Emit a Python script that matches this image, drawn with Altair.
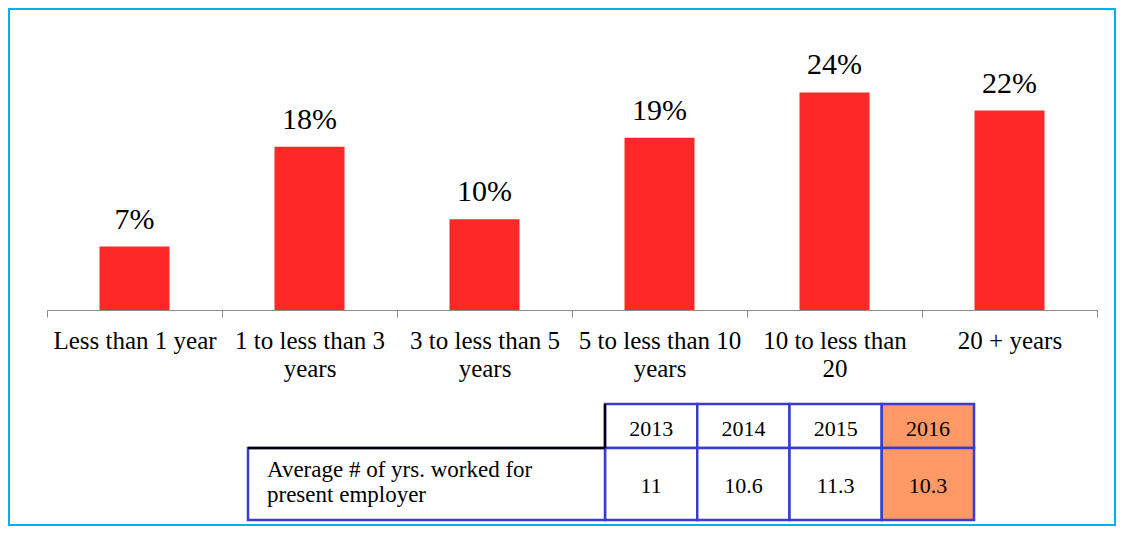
import altair as alt
import pandas as pd

# ---- data ----
categories = [
    "Less than 1 year",
    "1 to less than 3\nyears",
    "3 to less than 5\nyears",
    "5 to less than 10\nyears",
    "10 to less than\n20",
    "20 + years",
]
shares = [0.07, 0.18, 0.10, 0.19, 0.24, 0.22]

years = ["2013", "2014", "2015", "2016"]
avg_years = [11, 10.6, 11.3, 10.3]
row_label = "Average # of  yrs. worked for\npresent employer"
highlight_year = "2016"

FONT = "Liberation Serif"
RED = "#FF2828"
BLUE = "#3B3BCF"
ORANGE = "#FF9966"
FRAME = "#00B0F0"

W, H = 1050, 272

bars_df = pd.DataFrame({"category": categories, "share": shares})
table_df = pd.DataFrame({"year": years, "avg": avg_years})
label_df = pd.DataFrame({"label": [row_label]})

xcat = alt.X(
    "category:N",
    sort=categories,
    scale=alt.Scale(paddingInner=0, paddingOuter=0),
    axis=alt.Axis(
        title=None,
        labelAngle=0,
        labelFont=FONT,
        labelFontSize=25,
        labelColor="black",
        labelLineHeight=28,
        labelPadding=11,
        labelLimit=0,
        labelExpr="split(datum.label, '\\n')",
        tickBand="extent",
        tickSize=7,
        tickColor="#8C8C8C",
        domainColor="#8C8C8C",
        grid=False,
    ),
)
yshare = alt.Y("share:Q", scale=alt.Scale(domain=[0, 0.30]), axis=None)

bars = alt.Chart(bars_df).mark_bar(
    color=RED, width=alt.RelativeBandSize(0.4)
).encode(x=xcat, y=yshare)

bar_labels = alt.Chart(bars_df).mark_text(
    font=FONT, fontSize=30, color="black", baseline="alphabetic", dy=-18
).encode(x=xcat, y=yshare, text=alt.Text("share:Q", format=".0%"))

bar_layer = alt.layer(bars, bar_labels)

xyear = alt.X(
    "year:O",
    sort=years,
    scale=alt.Scale(range=[558, 927], paddingInner=0, paddingOuter=0),
    axis=None,
)
cell_fill = alt.condition(
    alt.datum.year == highlight_year, alt.value(ORANGE), alt.value("white")
)

header_cells = alt.Chart(table_df).mark_rect(
    stroke=BLUE, strokeWidth=2.5
).encode(x=xyear, y=alt.value(366), y2=alt.value(410), fill=cell_fill)

data_cells = alt.Chart(table_df).mark_rect(
    stroke=BLUE, strokeWidth=2.5
).encode(x=xyear, y=alt.value(410), y2=alt.value(482), fill=cell_fill)

header_text = alt.Chart(table_df).mark_text(
    font=FONT, fontSize=22, color="black", baseline="alphabetic"
).encode(x=xyear, y=alt.value(398), text="year:N")

data_text = alt.Chart(table_df).mark_text(
    font=FONT, fontSize=22, color="black", baseline="alphabetic"
).encode(x=xyear, y=alt.value(455), text="avg:Q")

label_cell = alt.Chart(label_df).mark_rect(
    stroke=BLUE, strokeWidth=2.5, fill="white"
).encode(x=alt.value(201), x2=alt.value(558), y=alt.value(410), y2=alt.value(482))

black_h = alt.Chart(label_df).mark_rule(color="black", strokeWidth=2.5).encode(
    x=alt.value(201), x2=alt.value(558), y=alt.value(410)
)
black_v = alt.Chart(label_df).mark_rule(color="black", strokeWidth=2.5).encode(
    x=alt.value(558), y=alt.value(366), y2=alt.value(410)
)

label_text = alt.Chart(label_df).mark_text(
    font=FONT, fontSize=23, color="black", align="left",
    baseline="alphabetic", lineBreak="\n", lineHeight=25
).encode(x=alt.value(220), y=alt.value(439), text="label:N")

table_layer = alt.layer(
    header_cells, data_cells, label_cell, black_h, black_v,
    header_text, data_text, label_text
)

frame = alt.Chart(label_df).mark_rect(
    filled=False, stroke=FRAME, strokeWidth=2
).encode(x=alt.value(-38), x2=alt.value(1068), y=alt.value(-29), y2=alt.value(487))

chart = (
    alt.layer(frame, bar_layer, table_layer)
    .resolve_scale(x="independent", y="independent")
    .properties(width=W, height=H, padding=0, background="white")
    .configure_view(stroke="transparent")
)

chart.save("out.html", embed_options={"renderer": "svg", "actions": False})
